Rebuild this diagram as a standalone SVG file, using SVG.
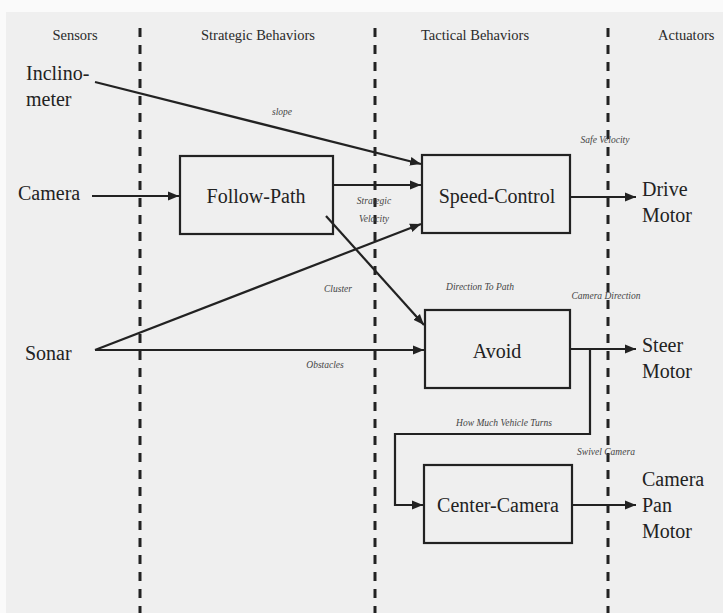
<svg xmlns="http://www.w3.org/2000/svg" width="723" height="613" viewBox="0 0 723 613">
<defs>
<marker id="ah" viewBox="0 0 10 10" refX="10" refY="5" markerWidth="5" markerHeight="5" orient="auto" markerUnits="strokeWidth">
<path d="M0,1 L10,5 L0,9 Z" fill="#222"/>
</marker>
<style>
.lane{stroke:#222;stroke-width:3;stroke-dasharray:9 8;fill:none}
.box{fill:none;stroke:#222;stroke-width:2.2}
.c{fill:none;stroke:#222;stroke-width:2.2}
.ca{fill:none;stroke:#222;stroke-width:2.2;marker-end:url(#ah)}
.hd{font-family:"Liberation Serif",serif;font-size:14.5px;fill:#2a2a2a}
.lb{font-family:"Liberation Serif",serif;font-size:20px;fill:#222}
.sm{font-family:"Liberation Serif",serif;font-size:9.5px;font-style:italic;fill:#444}
</style>
</defs>
<rect x="0" y="0" width="723" height="613" fill="#fafafa"/>
<rect x="6" y="12" width="717" height="601" fill="#efefef"/>
<g id="lanes">
<line class="lane" x1="140" y1="28" x2="140" y2="613"/>
<line class="lane" x1="375" y1="28" x2="375" y2="613"/>
<line class="lane" x1="608" y1="28" x2="608" y2="613"/>
</g>
<g id="headers">
<text class="hd" x="75" y="40" text-anchor="middle">Sensors</text>
<text class="hd" x="258" y="40" text-anchor="middle">Strategic Behaviors</text>
<text class="hd" x="475" y="40" text-anchor="middle">Tactical Behaviors</text>
<text class="hd" x="658" y="40">Actuators</text>
</g>
<g id="inclinometer"><text class="lb" x="26" y="80">Inclino-</text><text class="lb" x="26" y="106">meter</text></g>
<g id="camera"><text class="lb" x="18" y="200">Camera</text></g>
<g id="sonar"><text class="lb" x="25" y="360">Sonar</text></g>
<g id="follow-path"><rect class="box" x="180" y="156" width="153" height="78"/><text class="lb" x="256" y="203" text-anchor="middle">Follow-Path</text></g>
<g id="speed-control"><rect class="box" x="422" y="155" width="148" height="78"/><text class="lb" x="497" y="203" text-anchor="middle">Speed-Control</text></g>
<g id="avoid"><rect class="box" x="425" y="310" width="145" height="78"/><text class="lb" x="497" y="358" text-anchor="middle">Avoid</text></g>
<g id="center-camera"><rect class="box" x="424" y="465" width="148" height="78"/><text class="lb" x="498" y="512" text-anchor="middle">Center-Camera</text></g>
<g id="drive-motor"><text class="lb" x="642" y="196">Drive</text><text class="lb" x="642" y="222">Motor</text></g>
<g id="steer-motor"><text class="lb" x="642" y="352">Steer</text><text class="lb" x="642" y="378">Motor</text></g>
<g id="camera-pan-motor"><text class="lb" x="642" y="486">Camera</text><text class="lb" x="642" y="512">Pan</text><text class="lb" x="642" y="538">Motor</text></g>
<g id="connectors">
<line class="ca" x1="95" y1="82" x2="421" y2="164"/>
<line class="ca" x1="92" y1="196" x2="179" y2="196"/>
<line class="ca" x1="333" y1="185" x2="421" y2="185"/>
<line class="ca" x1="95" y1="350" x2="421" y2="224"/>
<line class="ca" x1="326" y1="216" x2="424" y2="325"/>
<line class="ca" x1="95" y1="350" x2="424" y2="350"/>
<line class="ca" x1="570" y1="197" x2="636" y2="197"/>
<line class="ca" x1="570" y1="349" x2="636" y2="349"/>
<polyline class="ca" points="590,349 590,434 395,434 395,505 423,505"/>
<line class="ca" x1="572" y1="505" x2="636" y2="505"/>
</g>
<g id="labels">
<text class="sm" x="282" y="115" text-anchor="middle">slope</text>
<text class="sm" x="374" y="204" text-anchor="middle">Strategic</text>
<text class="sm" x="374" y="222" text-anchor="middle">Velocity</text>
<text class="sm" x="338" y="292" text-anchor="middle">Cluster</text>
<text class="sm" x="480" y="290" text-anchor="middle">Direction To Path</text>
<text class="sm" x="325" y="368" text-anchor="middle">Obstacles</text>
<text class="sm" x="605" y="143" text-anchor="middle">Safe Velocity</text>
<text class="sm" x="606" y="299" text-anchor="middle">Camera Direction</text>
<text class="sm" x="504" y="426" text-anchor="middle">How Much Vehicle Turns</text>
<text class="sm" x="606" y="455" text-anchor="middle">Swivel Camera</text>
</g>
</svg>
